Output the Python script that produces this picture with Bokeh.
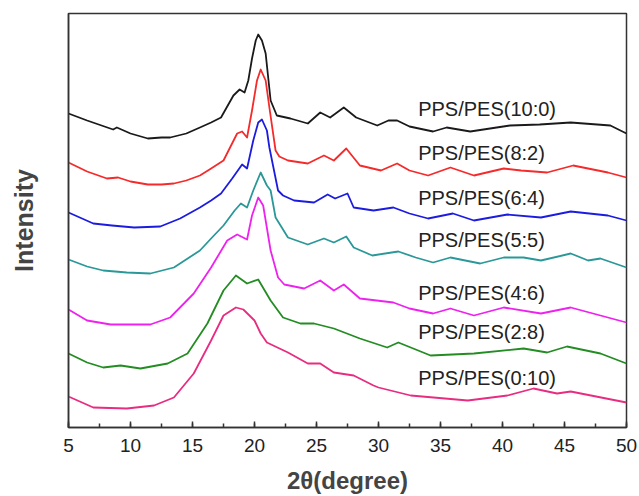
import numpy as np
from bokeh.plotting import figure
from bokeh.models import Range1d, SingleIntervalTicker, FixedTicker, LinearAxis
from bokeh.embed import file_html
from bokeh.resources import INLINE
from bokeh.core.properties import value

# ---- data (2theta in degrees, intensity in arbitrary stacked units) ----
labels = ["PPS/PES(10:0)", "PPS/PES(8:2)", "PPS/PES(6:4)", "PPS/PES(5:5)",
          "PPS/PES(4:6)", "PPS/PES(2:8)", "PPS/PES(0:10)"]

x_10_0 = [5.0, 6.5, 8.6, 8.9, 10.0, 11.4, 12.5, 13.2, 14.5, 15.6, 16.5, 17.3, 18.3, 18.8, 19.2, 19.5,
          19.8, 20.1, 20.3, 20.6, 20.9, 21.3, 21.8, 22.9, 24.3, 25.3, 26.1, 27.2, 28.2, 29.9, 30.8,
          31.5, 32.5, 34.4, 35.5, 37.4, 40.6, 43.0, 45.5, 48.7, 50.0]
y_10_0 = [314, 307, 298, 300, 294, 289, 290, 290, 294, 300, 305, 310, 332, 338, 335, 347,
          369, 387, 393, 387, 374, 327, 312, 309, 304, 315, 310, 320, 310, 302, 307,
          307, 301, 296, 300, 296, 302, 303, 305, 302, 294]

x_8_2 = [5.0, 6.5, 8.1, 9.0, 10.0, 11.4, 12.5, 13.5, 14.5, 15.6, 16.5, 17.5, 18.6, 19.0, 19.4, 19.8,
         20.2, 20.5, 20.9, 21.2, 21.7, 22.0, 22.7, 24.3, 25.6, 26.4, 27.4, 28.5, 30.2, 31.5, 32.5,
         34.0, 35.8, 37.7, 40.1, 41.5, 43.6, 45.7, 48.5, 50.0]
y_8_2 = [265, 256, 249, 250, 246, 243, 243, 244, 247, 252, 259, 267, 294, 296, 290, 317,
         347, 358, 347, 320, 277, 271, 267, 264, 272, 267, 279, 262, 257, 264, 257,
         252, 260, 252, 259, 257, 255, 262, 255, 250]

x_6_4 = [5.0, 7.0, 8.5, 10.3, 12.4, 14.0, 15.6, 16.5, 17.3, 18.2, 19.0, 19.4, 19.9, 20.3, 20.6, 21.0,
         21.2, 21.9, 22.3, 23.2, 24.8, 25.9, 26.5, 27.5, 28.0, 29.6, 31.2, 32.5, 34.0, 36.0, 37.7,
         40.4, 43.1, 45.5, 48.5, 50.0]
y_6_4 = [215, 204, 202, 200, 201, 209, 220, 227, 234, 249, 263, 259, 287, 305, 308, 297,
         280, 237, 232, 227, 225, 233, 229, 234, 220, 217, 220, 214, 209, 214, 207,
         213, 210, 216, 212, 207]

x_5_5 = [5.0, 6.5, 7.8, 9.7, 11.6, 13.5, 15.6, 16.5, 17.5, 18.4, 18.9, 19.4, 19.9, 20.5, 21.0, 21.3,
         21.7, 22.7, 24.3, 25.6, 26.4, 27.4, 28.0, 29.5, 31.6, 33.0, 34.4, 35.8, 38.2, 40.1, 41.7,
         43.1, 45.5, 46.9, 47.9, 50.0]
y_5_5 = [168, 161, 157, 155, 154, 160, 177, 189, 202, 217, 224, 220, 237, 255, 242, 237,
         210, 190, 183, 189, 185, 191, 180, 172, 176, 170, 165, 170, 164, 170, 170,
         167, 174, 167, 169, 160]

x_4_6 = [5.0, 6.5, 8.4, 10.0, 11.6, 13.2, 15.1, 16.5, 17.8, 18.6, 19.4, 19.8, 20.3, 20.7, 21.3, 21.9,
         22.4, 24.0, 25.3, 26.4, 27.2, 28.5, 31.2, 32.5, 34.4, 35.8, 37.7, 40.1, 43.1, 45.5, 47.9, 50.0]
y_4_6 = [118, 107, 103, 103, 103, 110, 134, 160, 187, 193, 188, 212, 230, 222, 177, 150,
         143, 139, 147, 137, 143, 129, 125, 119, 114, 119, 112, 120, 114, 120, 112, 105]

x_2_8 = [5.0, 6.5, 7.8, 9.2, 10.8, 13.0, 14.6, 16.2, 17.5, 18.5, 19.4, 20.3, 21.3, 22.3, 23.7, 24.8,
         26.4, 28.5, 30.7, 31.6, 34.2, 37.7, 41.7, 43.6, 45.2, 47.9, 50.0]
y_2_8 = [74, 65, 60, 62, 59, 64, 74, 104, 137, 152, 144, 148, 127, 110, 104, 104,
         99, 89, 80, 85, 72, 74, 79, 75, 81, 74, 64]

x_0_10 = [5.0, 7.0, 9.7, 11.9, 13.5, 15.1, 16.5, 17.5, 18.5, 19.1, 20.0, 20.5, 21.0, 22.7, 24.3, 25.3,
          26.4, 28.0, 29.6, 30.0, 32.6, 37.2, 40.4, 42.5, 44.4, 45.5, 50.0]
y_0_10 = [31, 20, 19, 22, 30, 54, 87, 112, 120, 118, 107, 94, 85, 75, 64, 64,
          55, 52, 42, 40, 32, 27, 32, 39, 34, 36, 25]

x_ticks_major = 5   # tick interval in degrees

series_x = [x_10_0, x_8_2, x_6_4, x_5_5, x_4_6, x_2_8, x_0_10]
series_y = [y_10_0, y_8_2, y_6_4, y_5_5, y_4_6, y_2_8, y_0_10]
colors = ["#1a1a1a", "#f52a2a", "#1c1ce0", "#2a9898", "#ee22ee", "#238c23", "#e82c80"]

FONT = "Liberation Sans"

p = figure(width=639, height=496, output_backend="svg", toolbar_location=None,
           x_range=Range1d(5, 50), y_range=Range1d(0, 414),
           min_border_left=68, min_border_right=13, min_border_top=13, min_border_bottom=69,
           x_axis_location=None, y_axis_location=None)
p.grid.visible = False
p.outline_line_color = "#333333"
p.outline_line_width = 1.5
p.background_fill_color = "white"
p.border_fill_color = "white"

xaxis = LinearAxis(ticker=SingleIntervalTicker(interval=x_ticks_major, num_minor_ticks=2))
xaxis.axis_label = "2θ(degree)"
xaxis.axis_label_text_font = FONT
xaxis.axis_label_text_font_style = "bold"
xaxis.axis_label_text_font_size = "24px"
xaxis.axis_label_standoff = 12
xaxis.major_label_text_font = FONT
xaxis.major_label_text_font_size = "19px"
xaxis.major_label_text_color = "#222222"
xaxis.major_label_standoff = 11
xaxis.major_tick_in = 6
xaxis.major_tick_out = 0
xaxis.minor_tick_in = 4
xaxis.minor_tick_out = 0
xaxis.axis_line_width = 1.5
xaxis.axis_line_color = "#333333"
xaxis.major_tick_line_color = "#333333"
xaxis.minor_tick_line_color = "#333333"
xaxis.major_tick_line_width = 1.5
xaxis.minor_tick_line_width = 1.5
p.add_layout(xaxis, "below")

yaxis = LinearAxis(ticker=FixedTicker(ticks=[]))
yaxis.axis_label = "Intensity"
yaxis.axis_label_text_font = FONT
yaxis.axis_label_text_font_style = "bold"
yaxis.axis_label_text_font_size = "25px"
yaxis.axis_label_standoff = 31
yaxis.axis_line_width = 1.5
yaxis.axis_line_color = "#333333"
yaxis.major_tick_line_color = None
yaxis.minor_tick_line_color = None
p.add_layout(yaxis, "left")

label_anchor_x = 33.2
label_curve_x = 37.5
for xs, ys, c, lab in zip(series_x, series_y, colors, labels):
    p.line(xs, ys, line_color=c, line_width=1.8, line_join="round")
    ly = float(np.interp(label_curve_x, xs, ys)) + 22
    p.text(x=[label_anchor_x], y=[ly], text=[lab], text_font=value(FONT),
           text_font_size="20px", text_color="#222222", text_baseline="middle", text_align="left")

open("out.html", "w").write(file_html(p, INLINE))
